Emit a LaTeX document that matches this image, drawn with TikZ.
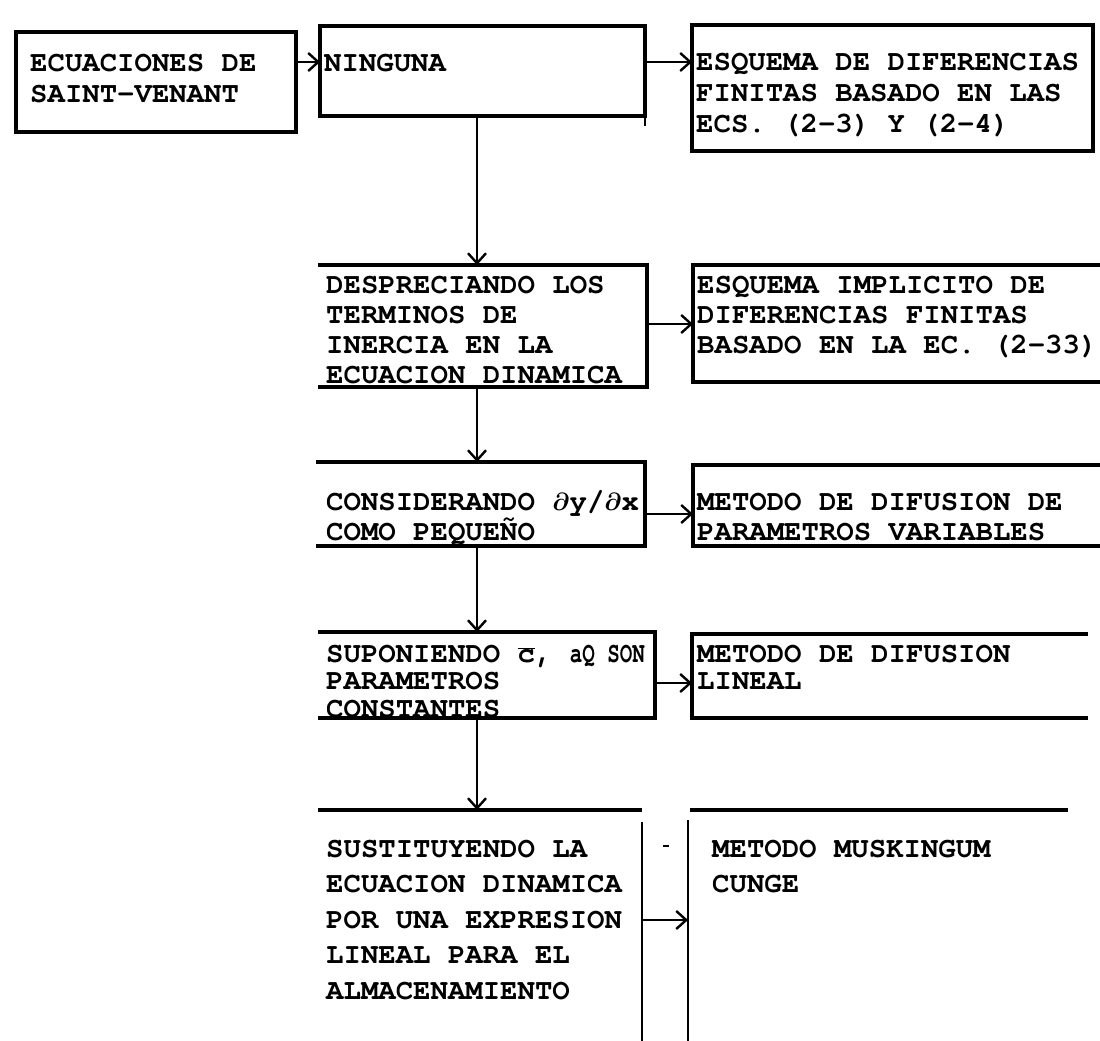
\documentclass[tikz,border=0pt]{standalone}
\usepackage{fontspec}
\usepackage{graphicx}
\newfontfamily\tw{texgyrecursor-bold.otf}
\usetikzlibrary{arrows.meta}
\newcommand\fl{\rule{0pt}{25pt}}
\newcommand\pd{{\boldmath$\partial$}}
\begin{document}
\begin{tikzpicture}[x=1pt,y=-1pt,
  edge/.style={line width=3.4pt},
  vedge/.style={line width=2.6pt},
  arr/.style={line width=2.4pt,-{Straight Barb[length=10pt,width=18pt,line width=2.4pt]}},
  txt/.style={font=\tw\fontsize{29}{#1}\selectfont, align=left, inner sep=0pt, anchor=north west},
  txt/.default=30,
  box/.style={draw=none, inner sep=0pt, outer sep=0pt, anchor=north west}]
\useasboundingbox[fill=white] (0,0) rectangle (1100,1041);

% ---- boxes (geometry only) ----
\node[box, minimum width=280pt, minimum height=100pt] (B1) at (16,32) {};
\node[box, minimum width=325pt, minimum height=90pt]  (B2) at (320,26) {};
\node[box, minimum width=401pt, minimum height=126pt] (B3) at (692,25) {};
\node[box, minimum width=329pt, minimum height=122pt] (B4) at (318,265) {};
\node[box, minimum width=407pt, minimum height=117pt] (B5) at (693,265) {};
\node[box, minimum width=329pt, minimum height=84pt]  (B6) at (316,462) {};
\node[box, minimum width=407pt, minimum height=81pt]  (B7) at (693,465) {};
\node[box, minimum width=337pt, minimum height=86pt]  (B8) at (318,632) {};
\node[box, minimum width=396pt, minimum height=84pt]  (B9) at (692,634) {};
\node[box, minimum width=324pt, minimum height=231pt] (B10) at (318,810) {};
\node[box, minimum width=380pt, minimum height=231pt] (B11) at (688,810) {};

% ---- texts ----
\node[txt=31] (T1) at (30,46) {\fl ECUACIONES DE\\SAINT-VENANT};
\node[txt=31] (T2) at (324,46) {\fl NINGUNA};
\node[txt=31] (T3) at (696,45) {\fl ESQUEMA DE DIFERENCIAS\\FINITAS BASADO EN LAS\\ECS. (2-3) Y (2-4)};
\node[txt=30] (T4) at (326,268) {\fl DESPRECIANDO LOS\\TERMINOS DE\\INERCIA EN LA\\ECUACION DINAMICA};
\node[txt=30] (T5) at (697,268) {\fl ESQUEMA IMPLICITO DE\\DIFERENCIAS FINITAS\\BASADO EN LA EC. (2-33)};
\node[txt=30] (T6) at (326,485) {\fl CONSIDERANDO \pd y/\pd x\\COMO PEQUEÑO};
\node[txt=30] (T7) at (697,485) {\fl METODO DE DIFUSION DE\\PARAMETROS VARIABLES};
\node[txt=27.5] (T8) at (326,637) {\fl SUPONIENDO $\overline{\mbox{c}}$, \scalebox{0.72}[1]{aQ SON}\\PARAMETROS\\CONSTANTES};
\node[txt=27.5] (T9) at (697,637) {\fl METODO DE DIFUSION\\LINEAL};
\node[txt=35.5] (T10) at (326,832) {\fl SUSTITUYENDO LA\\ECUACION DINAMICA\\POR UNA EXPRESION\\LINEAL PARA EL\\ALMACENAMIENTO};
\node[txt=35.5] (T11) at (712,832) {\fl METODO MUSKINGUM\\CUNGE};

% ---- box edges ----
\draw[edge] (B1.north west) rectangle (B1.south east);
\draw[edge] (B2.north west) rectangle (B2.south east);
\draw[vedge] (B2.south east) -- ++(0,10);
\draw[edge] (B3.north west) rectangle (B3.south east);
\draw[edge] (B4.north west) -- (B4.north east) -- (B4.south east) -- (B4.south west);
\draw[edge] (B5.north east) -- (B5.north west) -- (B5.south west) -- (B5.south east);
\draw[edge] (B6.north west) -- (B6.north east) -- (B6.south east) -- (B6.south west);
\draw[edge] (B7.north east) -- (B7.north west) -- (B7.south west) -- (B7.south east);
\draw[edge] (B8.north west) -- (B8.north east) -- (B8.south east) -- (B8.south west);
\draw[edge] (B9.north east) -- (B9.north west) -- (B9.south west) -- (B9.south east);
\draw[edge] (B10.north west) -- (B10.north east);
\draw[vedge] ([yshift=-12pt]B10.north east) -- (B10.south east);
\draw[edge] ([xshift=2pt]B11.north west) -- (B11.north east);
\draw[vedge] ([yshift=-10pt]B11.north west) -- (B11.south west);
\draw[line width=2pt] (663,846) -- (669,846);

% ---- connectors ----
\coordinate (V) at (477,0);
\coordinate (h1) at (0,62);
\coordinate (h2) at (0,324);
\coordinate (h3) at (0,514);
\coordinate (h4) at (0,683);
\coordinate (h5) at (0,920);
\draw[arr] (h1 -| B1.east) -- (h1 -| B2.west);
\draw[arr] (h1 -| B2.east) -- (h1 -| B3.west);
\draw[arr] (h2 -| B4.east) -- (h2 -| B5.west);
\draw[arr] (h3 -| B6.east) -- (h3 -| B7.west);
\draw[arr] (h4 -| B8.east) -- (h4 -| B9.west);
\draw[arr] (h5 -| B10.east) -- (h5 -| B11.west);
\draw[arr] (B2.south -| V) -- (B4.north -| V);
\draw[arr] (B4.south -| V) -- (B6.north -| V);
\draw[arr] (B6.south -| V) -- (B8.north -| V);
\draw[arr] (B8.south -| V) -- (B10.north -| V);
\end{tikzpicture}
\end{document}
